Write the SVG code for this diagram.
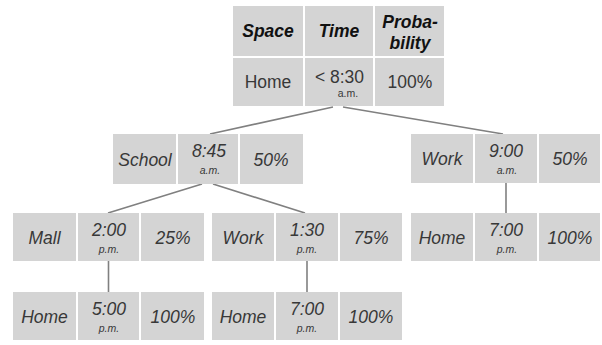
<svg xmlns="http://www.w3.org/2000/svg" width="602" height="345" viewBox="0 0 602 345">
<style>
.c{fill:#d4d4d4}
text{font-family:"Liberation Sans",Arial,Helvetica,sans-serif;fill:#383838;text-anchor:middle}
.h{font-size:17.5px;font-weight:bold;font-style:italic;fill:#111}
.n{font-size:17.5px}
.i{font-size:17.5px;font-style:italic}
.s{font-size:10.5px}
.si{font-size:10.5px;font-style:italic}
.ln{stroke:#808080;stroke-width:1.6;fill:none}
</style>
<rect width="602" height="345" fill="#fff"/>
<g id="connectors">
<line class="ln" x1="333" y1="107" x2="210" y2="134"/>
<line class="ln" x1="343" y1="107" x2="503" y2="134"/>
<line class="ln" x1="202" y1="184" x2="108" y2="213"/>
<line class="ln" x1="213" y1="184" x2="305" y2="213"/>
<line class="ln" x1="108.5" y1="261" x2="108.5" y2="292"/>
<line class="ln" x1="307" y1="261" x2="307" y2="292"/>
<line class="ln" x1="506" y1="183" x2="506" y2="213"/>
</g>
<g id="root">
<rect class="c" x="233" y="6" width="70" height="50"/>
<rect class="c" x="305" y="6" width="68" height="50"/>
<rect class="c" x="375" y="6" width="69" height="50"/>
<rect class="c" x="233" y="58" width="70" height="48"/>
<rect class="c" x="305" y="58" width="68" height="48"/>
<rect class="c" x="375" y="58" width="69" height="48"/>
<text class="h" x="268" y="37">Space</text>
<text class="h" x="339" y="37">Time</text>
<text class="h" x="410" y="28">Proba-</text>
<text class="h" x="410" y="49">bility</text>
<text class="n" x="268" y="88">Home</text>
<text class="n" x="339.5" y="83">&lt; 8:30</text>
<text class="s" x="348" y="97">a.m.</text>
<text class="n" x="410" y="88">100%</text>
</g>
<g id="school">
<rect class="c" x="113" y="134" width="63" height="50"/>
<rect class="c" x="178" y="134" width="60" height="50"/>
<rect class="c" x="240" y="134" width="63" height="50"/>
<text class="i" x="145" y="166">School</text>
<text class="i" x="209" y="157">8:45</text>
<text class="si" x="210" y="174">a.m.</text>
<text class="i" x="271" y="166">50%</text>
</g>
<g id="work-am">
<rect class="c" x="411" y="134" width="62" height="49"/>
<rect class="c" x="475" y="134" width="62" height="49"/>
<rect class="c" x="539" y="134" width="61" height="49"/>
<text class="i" x="442" y="165">Work</text>
<text class="i" x="506" y="157">9:00</text>
<text class="si" x="507" y="174">a.m.</text>
<text class="i" x="570" y="165">50%</text>
</g>
<g id="mall">
<rect class="c" x="13" y="213" width="63" height="48"/>
<rect class="c" x="78" y="213" width="61" height="48"/>
<rect class="c" x="141" y="213" width="63" height="48"/>
<text class="i" x="44.5" y="244">Mall</text>
<text class="i" x="109" y="236">2:00</text>
<text class="si" x="109" y="253">p.m.</text>
<text class="i" x="173" y="244">25%</text>
</g>
<g id="work-pm">
<rect class="c" x="212" y="213" width="62" height="48"/>
<rect class="c" x="276" y="213" width="62" height="48"/>
<rect class="c" x="340" y="213" width="62" height="48"/>
<text class="i" x="243" y="244">Work</text>
<text class="i" x="307" y="236">1:30</text>
<text class="si" x="307" y="253">p.m.</text>
<text class="i" x="371" y="244">75%</text>
</g>
<g id="home-5pm">
<rect class="c" x="13" y="292" width="63" height="48"/>
<rect class="c" x="78" y="292" width="61" height="48"/>
<rect class="c" x="141" y="292" width="63" height="48"/>
<text class="i" x="44.5" y="323">Home</text>
<text class="i" x="109" y="315">5:00</text>
<text class="si" x="109" y="332">p.m.</text>
<text class="i" x="173" y="323">100%</text>
</g>
<g id="home-7pm-left">
<rect class="c" x="212" y="292" width="62" height="48"/>
<rect class="c" x="276" y="292" width="62" height="48"/>
<rect class="c" x="340" y="292" width="62" height="48"/>
<text class="i" x="243" y="323">Home</text>
<text class="i" x="307" y="315">7:00</text>
<text class="si" x="307" y="332">p.m.</text>
<text class="i" x="371" y="323">100%</text>
</g>
<g id="home-7pm-right">
<rect class="c" x="411" y="213" width="62" height="48"/>
<rect class="c" x="475" y="213" width="62" height="48"/>
<rect class="c" x="539" y="213" width="61" height="48"/>
<text class="i" x="442" y="244">Home</text>
<text class="i" x="506" y="236">7:00</text>
<text class="si" x="507" y="253">p.m.</text>
<text class="i" x="570" y="244">100%</text>
</g>
</svg>
